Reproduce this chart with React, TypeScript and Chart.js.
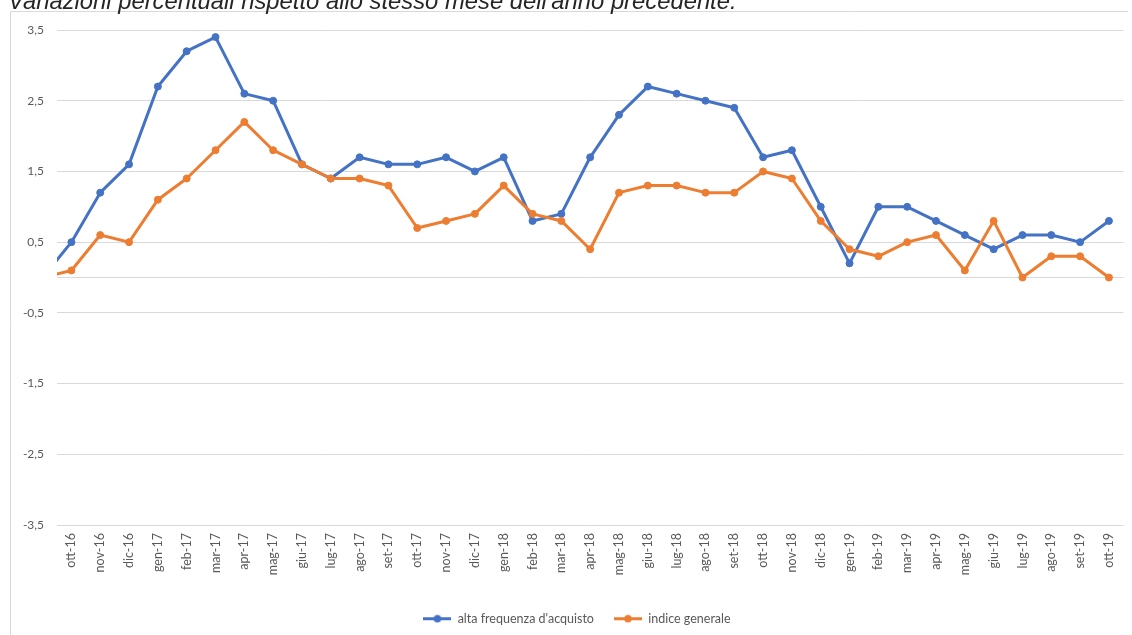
import React, { useEffect, useRef } from "react";
import { Chart, registerables } from "chart.js";

Chart.register(...registerables);

// First category (set-16) lies just outside the visible axis: only its segment enters the plot.
const categories = [
  "set-16",
  "ott-16", "nov-16", "dic-16", "gen-17", "feb-17", "mar-17", "apr-17", "mag-17", "giu-17",
  "lug-17", "ago-17", "set-17", "ott-17", "nov-17", "dic-17", "gen-18", "feb-18", "mar-18",
  "apr-18", "mag-18", "giu-18", "lug-18", "ago-18", "set-18", "ott-18", "nov-18", "dic-18",
  "gen-19", "feb-19", "mar-19", "apr-19", "mag-19", "giu-19", "lug-19", "ago-19", "set-19", "ott-19",
];

const altaFrequenza = [
  0.0,
  0.5, 1.2, 1.6, 2.7, 3.2, 3.4, 2.6, 2.5, 1.6,
  1.4, 1.7, 1.6, 1.6, 1.7, 1.5, 1.7, 0.8, 0.9,
  1.7, 2.3, 2.7, 2.6, 2.5, 2.4, 1.7, 1.8, 1.0,
  0.2, 1.0, 1.0, 0.8, 0.6, 0.4, 0.6, 0.6, 0.5, 0.8,
];

const indiceGenerale = [
  0.0,
  0.1, 0.6, 0.5, 1.1, 1.4, 1.8, 2.2, 1.8, 1.6,
  1.4, 1.4, 1.3, 0.7, 0.8, 0.9, 1.3, 0.9, 0.8,
  0.4, 1.2, 1.3, 1.3, 1.2, 1.2, 1.5, 1.4, 0.8,
  0.4, 0.3, 0.5, 0.6, 0.1, 0.8, 0.0, 0.3, 0.3, 0.0,
];

const yTickValues = [-3.5, -2.5, -1.5, -0.5, 0, 0.5, 1.5, 2.5, 3.5];
const seriesNames = ["alta frequenza d'acquisto", "indice generale"];
const seriesColors = ["#4472C4", "#ED7D31"];
const titleText = "Variazioni percentuali rispetto allo stesso mese dell'anno precedente.";

const FONT_FAMILY = "Lato, 'Liberation Sans', sans-serif";

function makeMarker(color: string): HTMLCanvasElement {
  const c = document.createElement("canvas");
  c.width = 28;
  c.height = 9;
  const ctx = c.getContext("2d")!;
  ctx.strokeStyle = color;
  ctx.lineWidth = 3;
  ctx.beginPath();
  ctx.moveTo(0, 4.5);
  ctx.lineTo(28, 4.5);
  ctx.stroke();
  ctx.fillStyle = color;
  ctx.beginPath();
  ctx.arc(14, 4.5, 3.8, 0, Math.PI * 2);
  ctx.fill();
  return c;
}

const framePlugin = {
  id: "frame",
  afterLayout(chart: any) {
    // centre the legend on the framed chart box (which starts at x=10 and runs past the right edge)
    if (chart.legend) {
      chart.legend.left = 26;
    }
  },
  beforeDraw(chart: any) {
    const ctx = chart.ctx;
    ctx.save();
    ctx.strokeStyle = "#d9d9d9";
    ctx.lineWidth = 1;
    ctx.beginPath();
    ctx.moveTo(10.5, 635);
    ctx.lineTo(10.5, 11.5);
    ctx.lineTo(1128, 11.5);
    ctx.stroke();
    ctx.restore();
  },
  afterDraw(chart: any) {
    const ctx = chart.ctx;
    ctx.save();
    ctx.font = "italic 22px 'Liberation Sans', Arial, sans-serif";
    const w = ctx.measureText(titleText).width;
    const size = (22 * 729) / w;
    ctx.font = `italic ${size}px 'Liberation Sans', Arial, sans-serif`;
    ctx.fillStyle = "#262626";
    ctx.textBaseline = "alphabetic";
    ctx.textAlign = "left";
    ctx.fillText(titleText, 8, 8.5);
    ctx.restore();
  },
};

export default function App() {
  const ref = useRef<HTMLCanvasElement | null>(null);

  useEffect(() => {
    if (!ref.current) return;
    const markers = seriesColors.map(makeMarker);
    const series = [altaFrequenza, indiceGenerale];
    const chart = new Chart(ref.current, {
      type: "line",
      data: {
        datasets: series.map((values, si) => ({
          label: seriesNames[si],
          data: values.map((v, i) => ({ x: i, y: v })),
          borderColor: seriesColors[si],
          backgroundColor: seriesColors[si],
          pointBackgroundColor: seriesColors[si],
          pointBorderColor: seriesColors[si],
          borderWidth: 3,
          pointRadius: 3.5,
          pointBorderWidth: 1,
          tension: 0,
          borderJoinStyle: "round" as const,
          borderCapStyle: "round" as const,
          order: si === 0 ? 1 : 0,
          clip: { left: 0, top: false, right: false, bottom: false } as any,
        })),
      },
      options: {
        responsive: false,
        animation: false,
        events: [],
        layout: { padding: { left: 12, right: 4, top: 30, bottom: 0 } },
        font: { family: FONT_FAMILY, size: 12 },
        scales: {
          x: {
            type: "linear",
            min: 0.5,
            max: categories.length - 0.5,
            grid: { display: false, drawTicks: false },
            border: { display: false },
            afterBuildTicks: (scale: any) => {
              scale.ticks = categories
                .map((_, i) => ({ value: i }))
                .filter((t) => t.value >= 1);
            },
            afterFit: (scale: any) => {
              scale.height = 67.5;
            },
            ticks: {
              autoSkip: false,
              minRotation: 90,
              maxRotation: 90,
              padding: 8,
              color: "#595959",
              font: { family: FONT_FAMILY, size: 12.5 },
              callback: (value: any) => categories[Number(value)] ?? "",
            },
          },
          y: {
            type: "linear",
            min: -3.5,
            max: 3.5,
            grid: { color: "#d9d9d9", lineWidth: 1, drawTicks: false },
            border: { display: false },
            afterBuildTicks: (scale: any) => {
              scale.ticks = yTickValues.map((v) => ({ value: v }));
            },
            afterFit: (scale: any) => {
              scale.width = 45;
            },
            ticks: {
              padding: 13,
              color: "#595959",
              font: { family: FONT_FAMILY, size: 12 },
              callback: (value: any) =>
                Number(value) === 0 ? "" : Number(value).toFixed(1).replace(".", ","),
            },
          },
        },
        plugins: {
          title: { display: false },
          tooltip: { enabled: false },
          legend: {
            display: true,
            position: "bottom",
            labels: {
              usePointStyle: true,
              pointStyleWidth: 28,
              boxHeight: 12.5,
              padding: 20,
              color: "#595959",
              font: { family: FONT_FAMILY, size: 12.5 },
              sort: (a: any, b: any) => a.datasetIndex - b.datasetIndex,
              generateLabels: (ch: any) =>
                (Chart as any).defaults.plugins.legend.labels
                  .generateLabels(ch)
                  .map((l: any) => ({ ...l, pointStyle: markers[l.datasetIndex] })),
            },
          },
        },
      },
      plugins: [framePlugin],
    } as any);
    return () => chart.destroy();
  }, []);

  return (
    <div style={{ position: "absolute", left: 0, top: 0, width: 1132, height: 635, background: "#fff" }}>
      <canvas ref={ref} width={1132} height={635} style={{ display: "block" }} />
    </div>
  );
}
